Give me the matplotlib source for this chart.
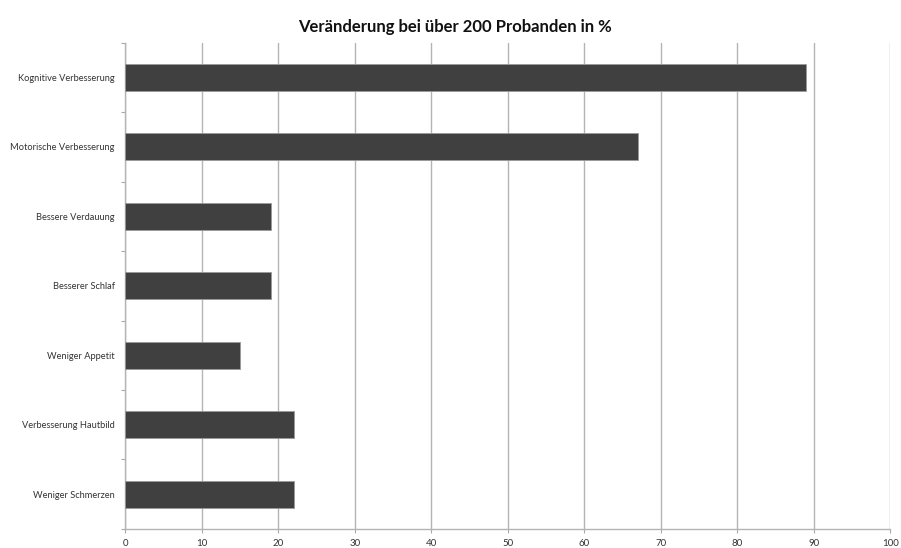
import matplotlib
matplotlib.use("Agg")
import matplotlib.pyplot as plt
import numpy as np

categories = ["Kognitive Verbesserung", "Motorische Verbesserung", "Bessere Verdauung",
              "Besserer Schlaf", "Weniger Appetit", "Verbesserung Hautbild", "Weniger Schmerzen"]
values = [89, 67, 19, 19, 15, 22, 22]
xticks = list(range(0, 101, 10))

plt.rcParams['font.family'] = ['Lato', 'DejaVu Sans']

fig = plt.figure(figsize=(9.01, 5.48), dpi=100)
ax = fig.add_axes([0.139, 0.035, 0.849, 0.887])

n = len(categories)
ypos = np.arange(n)[::-1]
ax.barh(ypos, values, height=0.39, color='#404040', edgecolor='#9a9a9a', linewidth=0.6, zorder=3)

ax.set_xlim(0, 100)
ax.set_ylim(-0.5, n - 0.5)
ax.set_xticks(xticks)
ax.set_xticklabels([str(t) for t in xticks], fontsize=7, color='#333333')
ax.set_yticks(ypos)
ax.set_yticklabels(categories, fontsize=6.7, color='#333333')
ax.tick_params(axis='y', length=0, pad=7.5)
ax.set_yticks(np.arange(-0.5, n, 1.0), minor=True)
ax.tick_params(axis='y', which='minor', length=3, color='#aaaaaa', width=0.8)
ax.tick_params(axis='x', length=3, color='#aaaaaa', width=0.8, pad=4)

ax.grid(axis='x', color='#b4b4b4', linewidth=1.0, zorder=0)
for s in ['top', 'right']:
    ax.spines[s].set_visible(False)
for s in ['left', 'bottom']:
    ax.spines[s].set_color('#b4b4b4')
    ax.spines[s].set_linewidth(1.0)

fig.suptitle("Veränderung bei über 200 Probanden in %", fontsize=12, fontweight='bold',
             y=0.965, x=0.505, color='#111111')

fig.savefig("out.png", dpi=100)
